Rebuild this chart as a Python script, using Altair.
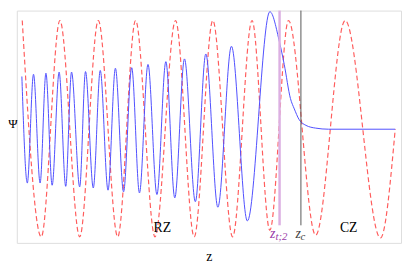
import altair as alt
import pandas as pd

# Blue solid curve (psi): extrema then decaying tail
blue_z = [0.23, 0.37, 0.53, 0.70, 0.85, 1.01, 1.19, 1.36, 1.51, 1.72, 1.87, 2.07,
          2.25, 2.45, 2.64, 2.85, 3.06, 3.26, 3.48, 3.71, 3.94, 4.17, 4.42, 4.70,
          4.97, 5.28, 5.63, 6.04, 6.62, 6.87, 6.99, 7.15, 7.25, 7.37, 7.55, 7.80,
          8.13, 9.85]
blue_psi = [0.96, -0.98, 1.00, -0.98, 1.02, -1.02, 1.04, -1.04, 1.04, -1.05, 1.05, -1.07,
            1.07, -1.11, 1.11, -1.14, 1.12, -1.16, 1.18, -1.19, 1.23, -1.25, 1.28, -1.32,
            1.37, -1.42, 1.51, -1.67, 2.14, 1.58, 1.18, 0.56, 0.37, 0.18, 0.07, 0.02,
            0.0, 0.0]

# Red dashed curve, extrema
red_z = [0.24, 0.73, 1.21, 1.72, 2.20, 2.70, 3.16, 3.66, 4.19, 4.67, 5.15, 5.66,
         6.16, 6.62, 7.10, 7.80, 8.56, 9.47, 9.85]
red_psi = [1.98, -1.96, 1.98, -1.96, 1.98, -1.96, 1.98, -1.96, 1.98, -1.96, 1.98, -1.96,
           1.98, -1.84, 1.98, -1.93, 1.98, -1.98, 0.0]

# Vertical markers
zt2 = 6.87
zc = 7.42
rule_top = 2.16
rule_bottom = -1.75

# Region labels
region_text = ["RZ", "CZ"]
region_z = [3.85, 8.65]
region_psi = [-1.88, -1.88]

z_dom = [0.1, 10.0]
psi_dom = [-2.07, 2.16]

blue_df = pd.DataFrame({"z": blue_z, "psi": blue_psi, "i": range(len(blue_z))})
red_df = pd.DataFrame({"z": red_z, "psi": red_psi, "i": range(len(red_z))})

xs = alt.Scale(domain=z_dom, nice=False, zero=False)
ys = alt.Scale(domain=psi_dom, nice=False, zero=False)

xaxis = alt.Axis(title="z", domain=False, ticks=False, labels=False, grid=False,
                 titleFont="Liberation Serif", titleFontSize=14, titleFontWeight="normal",
                 titleColor="black", titleBaseline="alphabetic", titleY=18)
yaxis = alt.Axis(title="Ψ", domain=False, ticks=False, labels=False, grid=False,
                 titleFont="Liberation Serif", titleFontSize=13, titleFontWeight="normal",
                 titleColor="black", titleAngle=0, titleAlign="center",
                 titleBaseline="alphabetic", titleX=-4.5, titleY=119)

red = alt.Chart(red_df).mark_line(
    color="#ff5c5c", strokeWidth=1.2, strokeDash=[5, 3], interpolate="monotone"
).encode(
    x=alt.X("z:Q", scale=xs, axis=xaxis),
    y=alt.Y("psi:Q", scale=ys, axis=yaxis),
    order="i:Q",
)

blue = alt.Chart(blue_df).mark_line(
    color="#4d4dff", strokeWidth=1.0, interpolate="monotone"
).encode(
    x=alt.X("z:Q", scale=xs),
    y=alt.Y("psi:Q", scale=ys),
    order="i:Q",
)

rule_df = pd.DataFrame({"z": [zt2], "top": [rule_top], "bottom": [rule_bottom]})
rule_c_df = pd.DataFrame({"z": [zc], "top": [rule_top], "bottom": [rule_bottom]})

rule_t = alt.Chart(rule_df).mark_rule(color="#dcb0e2", strokeWidth=2.5).encode(
    x=alt.X("z:Q", scale=xs), y=alt.Y("top:Q", scale=ys), y2="bottom:Q")
rule_c = alt.Chart(rule_c_df).mark_rule(color="#555555", strokeWidth=1).encode(
    x=alt.X("z:Q", scale=xs), y=alt.Y("top:Q", scale=ys), y2="bottom:Q")

regions = alt.Chart(pd.DataFrame({"z": region_z, "psi": region_psi, "t": region_text})).mark_text(
    font="Liberation Serif", fontSize=14, color="black", align="center", baseline="alphabetic"
).encode(x=alt.X("z:Q", scale=xs), y=alt.Y("psi:Q", scale=ys), text="t:N")

# z_{t;2} and z_c labels: main symbol and subscript
main_df = pd.DataFrame({"z": [6.69, 7.35], "psi": [-1.98, -1.98], "t": ["z", "z"],
                        "c": ["t", "c"]})
sub_df = pd.DataFrame({"z": [6.92, 7.47], "psi": [-2.02, -2.02], "t": ["t;2", "c"],
                       "c": ["t", "c"]})
cscale = alt.Scale(domain=["t", "c"], range=["#9a3aa8", "#444444"])

main_lbl = alt.Chart(main_df).mark_text(
    font="Liberation Serif", fontSize=14, fontStyle="italic", align="center", baseline="alphabetic"
).encode(x=alt.X("z:Q", scale=xs), y=alt.Y("psi:Q", scale=ys), text="t:N",
         color=alt.Color("c:N", scale=cscale, legend=None))
sub_lbl = alt.Chart(sub_df).mark_text(
    font="Liberation Serif", fontSize=11, fontStyle="italic", align="center", baseline="alphabetic"
).encode(x=alt.X("z:Q", scale=xs), y=alt.Y("psi:Q", scale=ys), text="t:N",
         color=alt.Color("c:N", scale=cscale, legend=None))

chart = alt.layer(red, blue, rule_t, rule_c, regions, main_lbl, sub_lbl).properties(
    width=392, height=237,
    padding={"left": 9, "top": 0, "right": 2, "bottom": 24},
    autosize=alt.AutoSizeParams(type="none"),
).configure_view(
    stroke="#d4d4d4", strokeWidth=2
).configure(background="white")

chart.save("out.html", embed_options={"renderer": "svg", "actions": False})
